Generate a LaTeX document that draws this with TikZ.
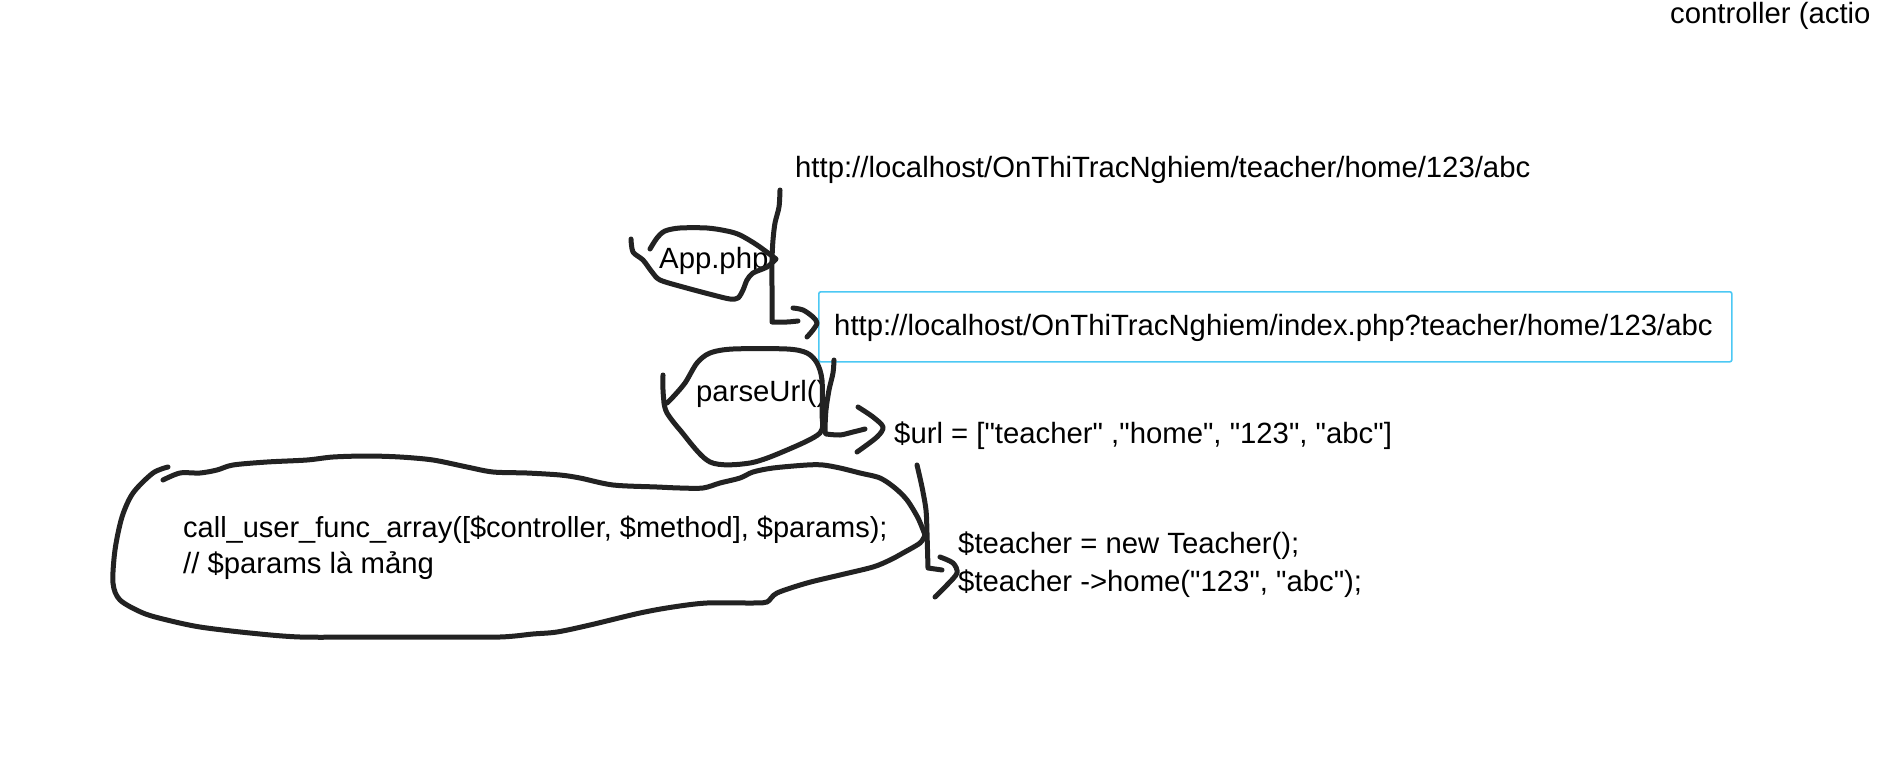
\documentclass[tikz,border=0pt]{standalone}
\usepackage{fontspec}
\setmainfont{Liberation Sans}[Ligatures=TeXOff]
\definecolor{inkc}{HTML}{222222}
\definecolor{boxc}{HTML}{4CC8F4}
\tikzset{
  ink/.style={draw=inkc, line width=5pt, line cap=round, line join=round},
  txt/.style={inner sep=0pt, anchor=base west, font=\fontsize{29.3}{36}\selectfont, text=black},
  urlbox/.style={draw=boxc, line width=1.6pt, rounded corners=2pt, inner sep=0pt}
}
\begin{document}
\begin{tikzpicture}[x=1pt,y=-1pt]
\useasboundingbox[fill=white] (0,0) rectangle (1877,784);

% texts
\node[txt] (ctrl) at (1670,24) {controller (actio};
\node[txt] (url1) at (795,177) {http://localhost/OnThiTracNghiem/teacher/home/123/abc};
\node[urlbox, minimum width=913pt, minimum height=70pt, anchor=north west] (box) at (818,291) {};
\node[txt] (url2) at (834,335) {http://localhost/OnThiTracNghiem/index.php?teacher/home/123/abc};
\node[txt] (app) at (659,268) {App.php};
\node[txt] (parse) at (696,401) {parseUrl()};
\node[txt] (urlarr) at (894,443) {\$url = ["teacher" ,"home", "123", "abc"]};
\node[txt] (call1) at (183,537) {\fontsize{29}{36}\selectfont call\_user\_func\_array([\$controller, \$method], \$params);};
\node[txt] (call2) at (183,573) {// \$params là mảng};
\node[txt] (t1) at (958,553) {\$teacher = new Teacher();};
\node[txt] (t2) at (958,591) {\$teacher ->home("123", "abc");};

% connector URL1 -> box
\coordinate (aS) at (780,190);
\coordinate (aC) at (772,322);
\coordinate (aE) at (798,321);
\draw[ink] plot[smooth] coordinates {(aS) (779,207) (775,223) (773,240) (772,260) (772,290) (aC)}
  -- plot[smooth] coordinates {(aC) (787,322) (aE)};
\draw[ink] plot[smooth] coordinates {(793,308) (803,310) (813,317) (817,323) (813,330) (807,337)};

% App.php blob
\coordinate (appTip) at (776,259);
\draw[ink] plot[smooth] coordinates {(650,249) (657,238) (665,231) (680,228) (707,228) (727,231) (740,235) (757,245) (appTip)}
  -- plot[smooth] coordinates {(appTip) (767,267) (753,273) (747,280) (743,290) (738,298) (730,299) (713,295) (683,287) (660,280) (652,272) (643,260) (633,252) (631,239)};

% parseUrl blob
\coordinate (pC) at (664,403);
\draw[ink] plot[smooth] coordinates {(663,375) (663,390) (pC)}
  -- plot[smooth] coordinates {(pC) (667,413) (680,430) (710,462) (750,463) (787,450) (820,433) (822,413) (822,380) (817,363) (807,353) (787,349) (733,349) (710,353) (697,363) (685,383) (673,397) (667,403)};

% connector box -> $url
\coordinate (bC) at (826,434);
\draw[ink] plot[smooth] coordinates {(834,360) (833,373) (829,390) (826,410) (825,430) (bC)}
  -- plot[smooth] coordinates {(bC) (840,435) (853,432) (865,429)};
\draw[ink] plot[smooth] coordinates {(858,407) (873,417) (883,427) (877,437) (857,452)};

% big blob around call_user_func_array
\coordinate (cTip) at (925,535);
\draw[ink] plot[smooth] coordinates {(163,480) (180,473) (200,473) (217,470) (233,465) (267,462) (307,460) (333,457) (367,456) (400,457) (433,460) (467,467) (493,472) (527,473) (560,475) (580,478) (613,485) (657,487) (680,488) (703,488) (720,483) (740,478) (753,472) (773,468) (807,465) (823,465) (840,468) (860,473) (880,478) (895,488) (907,500) (918,518) (cTip)}
  -- plot[smooth] coordinates {(cTip) (920,543) (903,553) (890,560) (873,567) (840,575) (807,583) (777,593) (767,602) (753,603) (707,603) (673,607) (640,613) (590,625) (557,632) (533,634) (500,637) (433,637) (367,637) (300,637) (250,633) (200,627) (167,620) (143,613) (120,600) (113,583) (115,550) (122,517) (133,493) (153,473) (168,467)};

% connector $url -> $teacher
\coordinate (dC) at (928,568);
\draw[ink] plot[smooth] coordinates {(917,465) (922,487) (926,510) (927,533) (dC)}
  -- plot[smooth] coordinates {(dC) (942,570)};
\draw[ink] plot[smooth] coordinates {(940,557) (953,563) (957,573) (947,585) (935,597)};
\end{tikzpicture}
\end{document}
